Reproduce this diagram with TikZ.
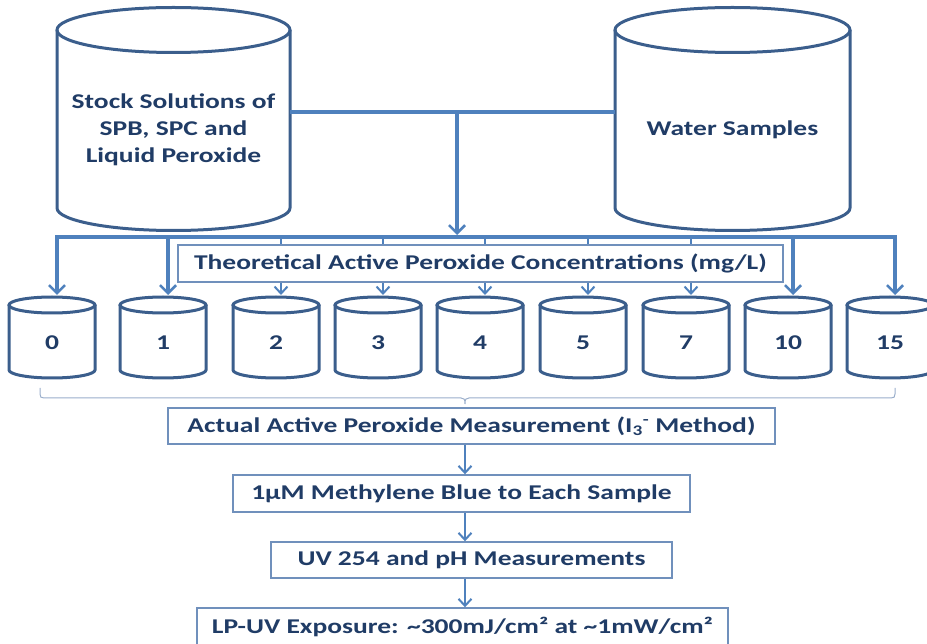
\documentclass[tikz,border=0pt]{standalone}
\usepackage{fontspec}
\setmainfont{Carlito}[FakeStretch=1.31]
\usetikzlibrary{arrows.meta}

\definecolor{linkblue}{HTML}{4F81BD}
\definecolor{tankedge}{HTML}{3B5E8C}
\definecolor{boxedge}{HTML}{7090BC}
\definecolor{bracegray}{HTML}{9AAECB}
\definecolor{inkblue}{HTML}{203C66}

\tikzset{
  tankline/.style={draw=tankedge, line width=3pt},
  tankbody/.style={inner sep=0pt, outer sep=0pt},
  tanktext/.style={text=inkblue, font=\bfseries\fontsize{21}{27}\selectfont, align=center, inner sep=0pt},
  heavylink/.style={draw=linkblue, line width=4.5pt, line join=miter},
  lightlink/.style={draw=linkblue, line width=2.2pt},
  heavytip/.style={-{Straight Barb[length=8pt,width=16pt,line width=2.6pt]}},
  heavyboth/.style={{Straight Barb[length=8pt,width=16pt,line width=2.6pt]}-{Straight Barb[length=8pt,width=16pt,line width=2.6pt]}},
  lighttip/.style={-{Straight Barb[length=7pt,width=13pt,line width=2pt]}},
  stepbox/.style={draw=boxedge, line width=1.4pt, fill=white, text=inkblue,
    font=\bfseries\fontsize{21}{27}\selectfont, inner sep=0pt},
}

% a tank drawn as a cylinder: name, centre x, top-ellipse y, bottom-ellipse y,
% half width, ellipse half height, label y, label
\newcommand\drawtank[8]{%
  \node[tankbody, minimum width={2*#5pt}, minimum height={(#4-#3+2*#6)*1pt}] (#1) at (#2,{(#3+#4)/2}) {};
  \draw[tankline] (#2,#3) ellipse [x radius=#5pt, y radius=#6pt];
  \draw[tankline] ({#2-#5},#3) -- ({#2-#5},#4)
    arc[start angle=180, end angle=360, x radius=#5pt, y radius=#6pt] -- ({#2+#5},#3);
  \node[tanktext] (#1-label) at (#2,#7) {#8};
}

\begin{document}
\begin{tikzpicture}[x=1pt,y=-1pt]
\useasboundingbox (0,0) rectangle (927,644);
\clip (0,0) rectangle (927,644);

% source tanks
\drawtank{stock}{173.5}{30}{208}{116.5}{22.5}{130}{Stock Solutions of\\SPB, SPC and\\Liquid Peroxide}
\drawtank{water}{732.5}{30}{208}{117.5}{22.5}{130}{Water Samples}

% sample tanks
\foreach \n/\c/\v in {t0/52/0, t1/163/1, t2/276/2, t3/378/3, t4/480/4, t5/583/5, t7/686/7, t10/788/10, t15/890/15}
  {\drawtank{\n}{\c}{305}{370}{43}{8}{343}{\v}}

% label band over the sample drops
\node[stepbox, minimum width=605pt, minimum height=37pt] (theo) at (480.5,263.5)
  {Theoretical Active Peroxide Concentrations (mg/L)};

% procedure steps
\node[stepbox, minimum width=607pt, minimum height=36pt] (actual) at (471.5,426)
  {Actual Active Peroxide Measurement (I\textsubscript{3}\textsuperscript{-} Method)};
\node[stepbox, minimum width=457pt, minimum height=37pt] (dye) at (461.5,493.5)
  {1µM Methylene Blue to Each Sample};
\node[stepbox, minimum width=401pt, minimum height=36pt] (uvph) at (471.5,560)
  {UV 254 and pH Measurements};
\node[stepbox, minimum width=531pt, minimum height=38pt] (lpuv) at (462.5,627)
  {\raisebox{3pt}{LP-UV Exposure: \textasciitilde300mJ/cm² at \textasciitilde1mW/cm²}};

% mixing line and distribution bus
\coordinate (split) at (457,112);
\coordinate (bus) at (457,237);
\draw[heavylink] (stock.east |- split) -- (water.west |- split);
\draw[heavylink, heavytip] (split) -- ([yshift=2pt]bus);
\draw[heavylink, heavyboth]
  ([xshift=5pt,yshift=2pt]t0.north) -- ([xshift=5pt]t0.north |- bus)
  -- ([xshift=5pt]t15.north |- bus) -- ([xshift=5pt,yshift=2pt]t15.north);
\foreach \n in {t1,t10}
  \draw[heavylink, heavytip] ([xshift=5pt]\n.north |- bus) -- ([xshift=5pt,yshift=2pt]\n.north);
\foreach \n in {t2,t3,t4,t5,t7}{
  \draw[lightlink] ([xshift=5pt]\n.north |- bus) -- ([xshift=5pt]\n.north |- theo.north);
  \draw[lightlink, lighttip] ([xshift=5pt]\n.north |- theo.south) -- ([xshift=5pt,yshift=2pt]\n.north);
}

% brace gathering all samples
\coordinate (bracetip) at (465,404);
\draw[bracegray, line width=1pt]
  (40,388) -- (40,394) .. controls (40,397) and (41,398) .. (44,398) -- (461,398)
  .. controls (464,398) and (465,399) .. (bracetip)
  .. controls (465,399) and (466,398) .. (469,398) -- (891,398)
  .. controls (894,398) and (895,397) .. (895,394) -- (895,388);

% step arrows
\draw[lightlink, lighttip] (actual.south -| bracetip) -- (dye.north -| bracetip);
\draw[lightlink, lighttip] (dye.south -| bracetip) -- (uvph.north -| bracetip);
\draw[lightlink, lighttip] (uvph.south -| bracetip) -- (lpuv.north -| bracetip);
\end{tikzpicture}
\end{document}
